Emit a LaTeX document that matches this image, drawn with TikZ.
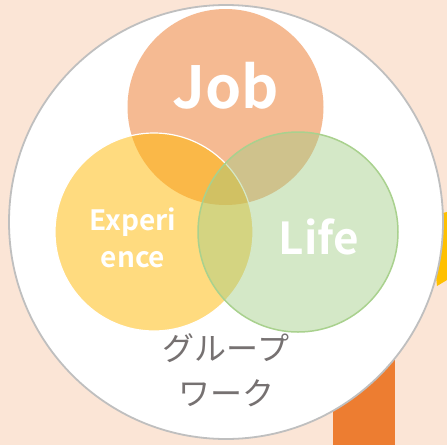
\documentclass[tikz,border=0pt]{standalone}
\usepackage{fontspec}
\newfontfamily\jp{Noto Sans CJK JP}
\newfontfamily\jpb{Noto Sans CJK JP Bold}
\definecolor{bgpeach}{HTML}{FBE5D6}
\definecolor{ringgray}{HTML}{BFBFBF}
\definecolor{joborange}{HTML}{F4B183}
\definecolor{expyellow}{HTML}{FFB800}
\definecolor{lifegreen}{HTML}{A1CC85}
\definecolor{lifeline}{HTML}{A9D18E}
\definecolor{barorange}{HTML}{ED7D31}
\definecolor{baryellow}{HTML}{FFC000}
\definecolor{textgray}{HTML}{767171}
\tikzset{
  venn/.style={circle, inner sep=0pt, minimum size=#1},
  bigword/.style={text=white, font=\jpb, align=center, inner sep=0pt},
}
\begin{document}
\begin{tikzpicture}[x=1pt,y=-1pt]
\useasboundingbox (0,0) rectangle (447,445);
\fill[bgpeach] (0,0) rectangle (447,445);
% background shapes behind the ring
\fill[barorange] (333,330) rectangle (395,445);
\fill[baryellow] (430,216) -- (447,212) -- (447,280) -- (437,286) -- cycle;
% large white ring
\node[venn=434pt, fill=white, draw=ringgray, line width=1.8pt] (ring) at (226,222) {};
% Venn circles
\node[venn=196pt, fill=joborange, fill opacity=0.88] (job) at (225.5,107) {};
\node[venn=198pt, fill=expyellow, fill opacity=0.5, draw=white, draw opacity=1, line width=1.2pt] (exp) at (154,232) {};
\node[venn=200pt, fill=lifegreen, fill opacity=0.45, draw=lifeline, draw opacity=1, line width=1.5pt] (life) at (298,232) {};
% labels
\node[bigword, font=\jpb\fontsize{58}{58}\selectfont] (jobt) at (225.5,86) {Job};
\node[bigword, font=\jpb\fontsize{44}{44}\selectfont] (lifet) at (319,237) {Life};
\node[bigword, font=\jpb\fontsize{28}{37}\selectfont] (expt) at (133,238) {Experi\\ence};
\node[text=textgray, font=\jp\fontsize{32}{45}\selectfont, align=center, inner sep=0pt] (gw) at (226,370) {グループ\\ワーク};
\end{tikzpicture}
\end{document}
